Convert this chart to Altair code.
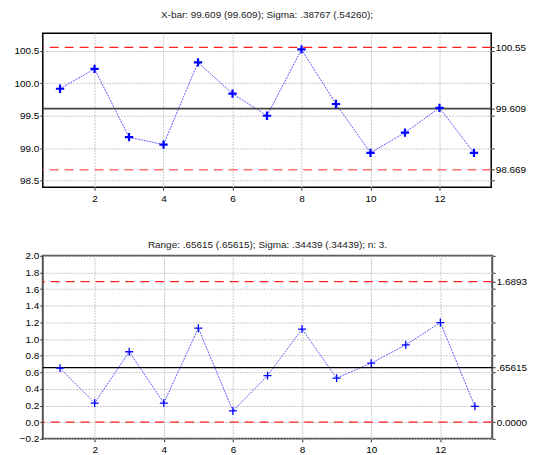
import altair as alt
import pandas as pd

# ---- data ----
samples = list(range(1, 14))
xbar_values = [99.915, 100.22, 99.17, 99.056, 100.32, 99.84, 99.50,
               100.52, 99.68, 98.93, 99.24, 99.62, 98.93]
range_values = [0.65, 0.23, 0.847, 0.23, 1.13, 0.135, 0.56,
                1.12, 0.53, 0.71, 0.93, 1.198, 0.19]

xbar_limits = [100.55, 99.609, 98.669]          # UCL, CL, LCL
xbar_limit_labels = ["100.55", "99.609", "98.669"]
range_limits = [1.6893, 0.65615, 0.0]
range_limit_labels = ["1.6893", ".65615", "0.0000"]

x_ticks = [2, 4, 6, 8, 10, 12]
xbar_ticks = [98.5, 99.0, 99.5, 100.0, 100.5]
range_ticks = [-0.2, 0.0, 0.2, 0.4, 0.6, 0.8, 1.0, 1.2, 1.4, 1.6, 1.8, 2.0]

xbar_title = "X-bar: 99.609 (99.609); Sigma: .38767 (.54260);"
range_title = "Range: .65615 (.65615); Sigma: .34439 (.34439); n: 3."

FONT = "Liberation Sans"
CROSS = "M-1,0L1,0M0,-1L0,1"


def label_expr(values, labels):
    expr = "''"
    for v, l in reversed(list(zip(values, labels))):
        expr = f"abs(datum.value - ({v})) < 1e-6 ? '{l}' : " + expr
    return expr


def panel(values, limits, limit_labels, ticks, domain, title, width, height,
          cross_width, cross_size, lcl_color, cl_color, cl_width, border,
          border_width, min_extent, title_offset):
    df = pd.DataFrame({"sample": samples, "value": values})
    lim = pd.DataFrame({"value": limits, "label": limit_labels})
    yscale = alt.Scale(domain=domain, nice=False, zero=False)
    xscale = alt.Scale(domain=[0.5, 13.5], nice=False, zero=False)

    x_enc = alt.X("sample:Q", scale=xscale, title=None,
                  axis=alt.Axis(values=x_ticks, format="d", grid=True,
                                gridColor="#c8c8c8", gridDash=[2, 1],
                                gridWidth=1, domain=False, tickSize=3,
                                tickColor="#333", labelPadding=3,
                                labelFlush=False))

    line = alt.Chart(df).mark_line(
        color="#5a5aff", strokeWidth=1, strokeDash=[2, 1]
    ).encode(
        x=x_enc,
        y=alt.Y("value:Q", scale=yscale, title=None,
                axis=alt.Axis(values=ticks, format=".1f", grid=True,
                              gridColor="#c8c8c8", gridDash=[2, 1],
                              gridWidth=1, domain=False, tickSize=3,
                              tickColor="#333", labelPadding=1,
                              minExtent=min_extent,
                              labelFlush=False, labelOverlap=False)),
    )
    pts = alt.Chart(df).mark_point(
        shape=CROSS, filled=False, color="#0000ff", strokeWidth=cross_width,
        size=cross_size, opacity=1
    ).encode(
        x=alt.X("sample:Q", scale=xscale),
        y=alt.Y("value:Q", scale=yscale, axis=None),
    )
    ucl = alt.Chart(lim.iloc[[0]]).mark_rule(
        color="#ff2020", strokeWidth=1.3, strokeDash=[9, 6]
    ).encode(y=alt.Y("value:Q", scale=yscale, axis=None))
    lcl = alt.Chart(lim.iloc[[2]]).mark_rule(
        color=lcl_color, strokeWidth=1.3, strokeDash=[9, 6]
    ).encode(y=alt.Y("value:Q", scale=yscale, axis=None))
    cl = alt.Chart(lim.iloc[[1]]).mark_rule(
        color=cl_color, strokeWidth=cl_width
    ).encode(y=alt.Y("value:Q", scale=yscale, axis=None))
    right = alt.Chart(lim).mark_rule(opacity=0).encode(
        y=alt.Y("value:Q", scale=yscale, title=None,
                axis=alt.Axis(orient="right", values=limits + ticks,
                              labelExpr=label_expr(limits, limit_labels),
                              grid=False, domain=False, tickSize=3,
                              tickColor="#333", labelPadding=1,
                              labelFlush=False, labelOverlap=False))
    )

    return alt.layer(line, ucl, lcl, cl, pts, right).resolve_axis(
        y="independent"
    ).properties(
        width=width, height=height,
        title=alt.TitleParams(title, fontSize=10, font=FONT, fontWeight="normal",
                              color="#222", offset=title_offset, anchor="middle"),
        view=alt.ViewBackground(stroke=border, strokeWidth=border_width),
    )


top = panel(xbar_values, xbar_limits, xbar_limit_labels, xbar_ticks,
            [98.40, 100.77], xbar_title, 451, 155, 2.2, 70,
            "#ff7070", "#444444", 1.6, "#000000", 1.5, 31, 13)
bottom = panel(range_values, range_limits, range_limit_labels, range_ticks,
               [-0.2, 2.0], range_title, 452, 184, 1.3, 64,
               "#ff2020", "#000000", 1.3, "#555555", 2, 26, 1)

chart = alt.vconcat(top, bottom, spacing=35).properties(
    padding={"left": 3, "top": 0, "right": 0, "bottom": 0}
).configure_axis(
    labelFont=FONT, labelFontSize=11, labelColor="#222"
).configure_title(font=FONT).configure(background="white")

chart.save("out.html", embed_options={"renderer": "svg", "actions": False})
